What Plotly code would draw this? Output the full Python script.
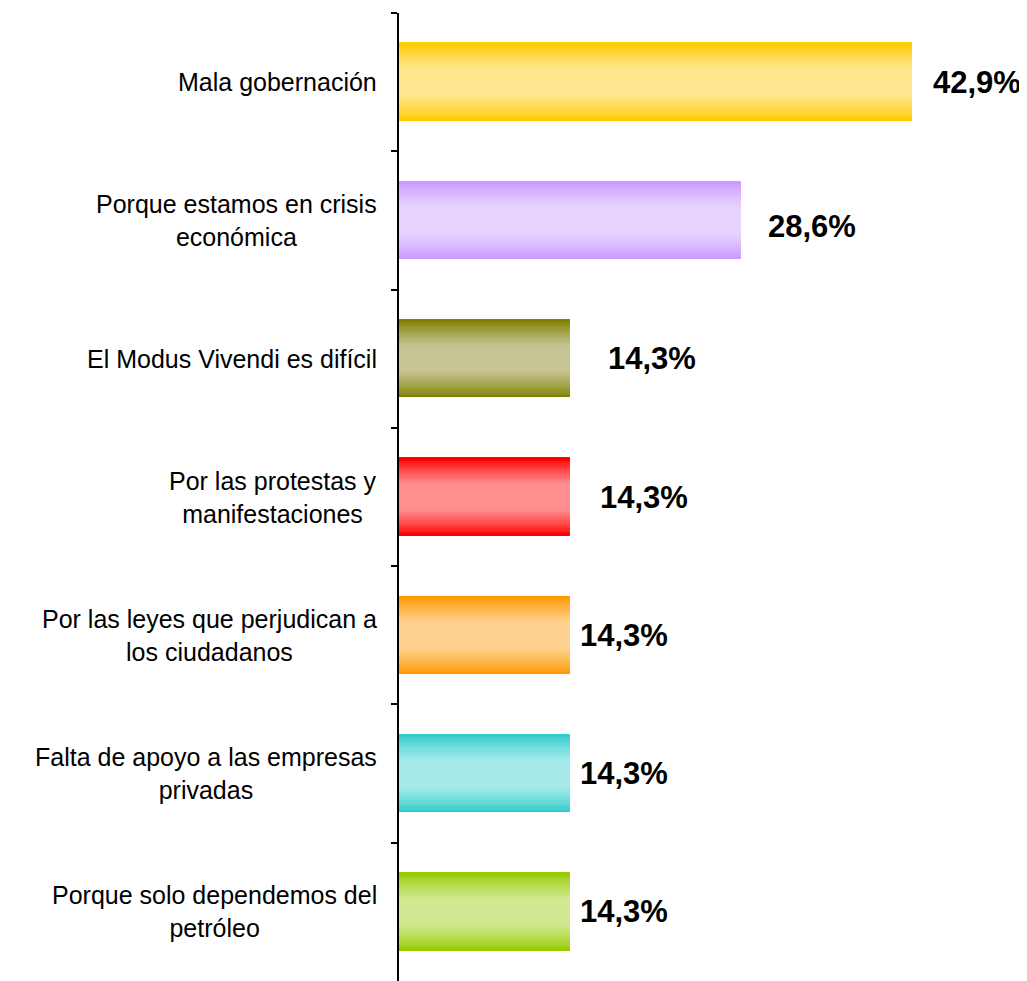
import plotly.graph_objects as go

# ---- data ----
categories = [
    "Mala gobernación",
    "Porque estamos en crisis económica",
    "El Modus Vivendi es difícil",
    "Por las protestas y manifestaciones",
    "Por las leyes que perjudican a los ciudadanos",
    "Falta de apoyo a las empresas privadas",
    "Porque solo dependemos del petróleo",
]
label_lines = [
    ["Mala gobernación"],
    ["Porque estamos en crisis", "económica"],
    ["El Modus Vivendi es difícil"],
    ["Por las protestas y", "manifestaciones"],
    ["Por las leyes que perjudican a", "los ciudadanos"],
    ["Falta de apoyo a las empresas", "privadas"],
    ["Porque solo dependemos del", "petróleo"],
]
values = [42.9, 28.6, 14.3, 14.3, 14.3, 14.3, 14.3]
value_labels = ["42,9%", "28,6%", "14,3%", "14,3%", "14,3%", "14,3%", "14,3%"]

# ---- style ----
edge_colors = ["#FFCC00", "#CC99FF", "#808000", "#FF0000", "#FF9900", "#33CCCC", "#99CC00"]
center_colors = ["#FFE68F", "#E6D4FF", "#C6C593", "#FF8F8F", "#FFD28F", "#A8EAEA", "#D2E893"]
label_xshift = [19, 25, 36, 28, 8, 8, 8]
label_yshift = [0, -6, 0, 0, 0, 0, 0]
BAR_W = 0.56
N_LAYERS = 16
FONT = "Liberation Sans, Arial, sans-serif"


def hex_to_rgb(h):
    h = h.lstrip("#")
    return tuple(int(h[i:i + 2], 16) for i in (0, 2, 4))


def mix(c1, c2, t):
    a, b = hex_to_rgb(c1), hex_to_rgb(c2)
    return "rgb(%d,%d,%d)" % tuple(round(a[i] + (b[i] - a[i]) * t) for i in range(3))


fig = go.Figure()

# gradient simulated with overlaid bars of decreasing thickness
for k in range(N_LAYERS):
    frac = 1 - k / N_LAYERS
    t = min(1.0, (k / (N_LAYERS - 1)) / 0.7) ** 0.8
    cols = [mix(e, c, t) for e, c in zip(edge_colors, center_colors)]
    fig.add_trace(go.Bar(
        x=values,
        y=categories,
        orientation="h",
        width=[BAR_W * frac] * len(values),
        marker=dict(
            color=cols,
            line=dict(width=1 if k == 0 else 0, color=edge_colors),
        ),
        showlegend=False,
        hoverinfo="skip",
    ))

annotations = []
# value labels
for cat, v, txt, dx, dy in zip(categories, values, value_labels, label_xshift, label_yshift):
    annotations.append(dict(
        x=v, y=cat, xref="x", yref="y", text=txt, showarrow=False,
        xanchor="left", yanchor="middle", xshift=dx, yshift=dy,
        font=dict(family=FONT, size=31, color="black", weight="bold"),
    ))

# category labels (centered multi-line)
for cat, lines in zip(categories, label_lines):
    annotations.append(dict(
        x=0, y=cat, xref="paper", yref="y", text="<br>".join(lines),
        showarrow=False, xanchor="right", yanchor="middle", xshift=-20,
        align="center",
        font=dict(family=FONT, size=25, color="black"),
    ))

fig.update_layout(
    width=1019, height=973,
    margin=dict(l=391, r=27, t=5, b=0),
    paper_bgcolor="white", plot_bgcolor="white",
    barmode="overlay",
    bargap=0,
    showlegend=False,
    annotations=annotations,
    xaxis=dict(visible=False, range=[0, 50.3], fixedrange=True),
    yaxis=dict(
        type="category",
        categoryorder="array", categoryarray=categories,
        autorange="reversed",
        showline=True, linecolor="black", linewidth=2,
        ticks="outside", ticklen=6, tickwidth=2, tickcolor="black",
        tickson="boundaries",
        showticklabels=False, showgrid=False, zeroline=False,
    ),
)

fig.write_html("out.html")
